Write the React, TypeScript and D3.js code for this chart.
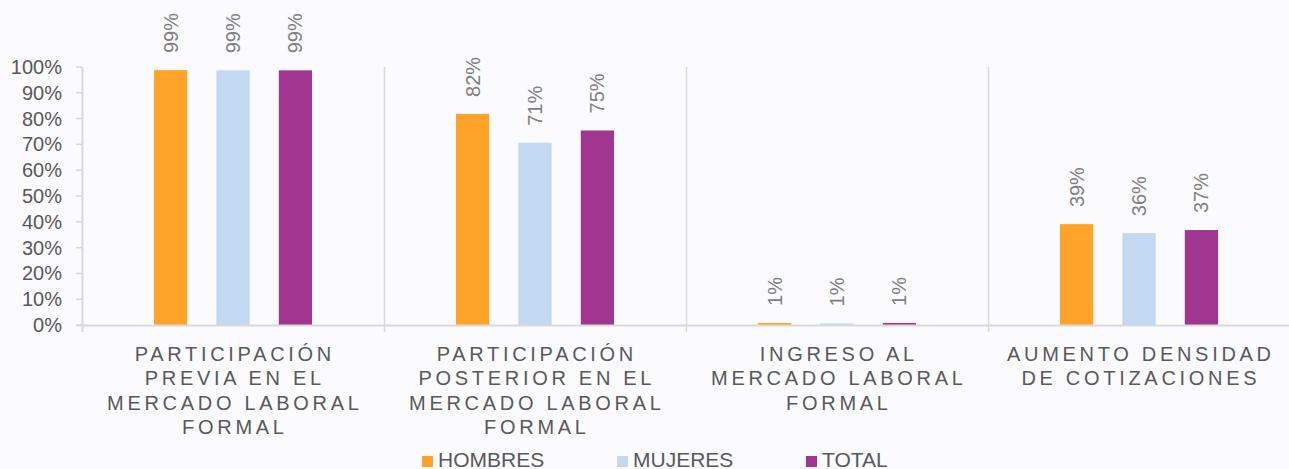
import React from "react";
import * as d3 from "d3";

const categories: string[][] = [
  ["PARTICIPACIÓN", "PREVIA EN EL", "MERCADO LABORAL", "FORMAL"],
  ["PARTICIPACIÓN", "POSTERIOR EN EL", "MERCADO LABORAL", "FORMAL"],
  ["INGRESO AL", "MERCADO LABORAL", "FORMAL"],
  ["AUMENTO DENSIDAD", "DE COTIZACIONES"],
];
const seriesNames = ["HOMBRES", "MUJERES", "TOTAL"];
const hombres = [98.8, 81.8, 0.8, 39.1];
const mujeres = [98.7, 70.6, 0.6, 35.6];
const total = [98.7, 75.4, 0.8, 36.8];
const yTicks = [0, 10, 20, 30, 40, 50, 60, 70, 80, 90, 100];

const colors = ["#FFA32A", "#C3D8F1", "#A03690"];
const W = 1289;
const H = 469;
const left = 82;
const right = 1290;
const top = 67;
const bottom = 325;
const font = "'Liberation Sans', Arial, sans-serif";

export default function App() {
  const series = [hombres, mujeres, total];
  const catIdx = categories.map((_, i) => String(i));
  const x0 = d3.scaleBand<string>().domain(catIdx).range([left, right]).padding(0);
  const x1 = d3
    .scaleBand<string>()
    .domain(seriesNames)
    .range([72, 230])
    .paddingInner(0.468)
    .paddingOuter(0);
  const y = d3.scaleLinear().domain([0, 100]).range([bottom, top]);
  const legendX = [422, 617, 806];
  const grid = "#D9D9D9";
  const ls = 3.7;

  return (
    <div style={{ position: "fixed", left: 0, top: 0, width: W, height: H }}>
      <svg width={W} height={H} style={{ display: "block", background: "#FBFAFD" }}>
        <rect x={0} y={0} width={W} height={H} fill="#FBFAFD" />
        {/* category separators */}
        {catIdx.map((c, i) => (
          <line
            key={"sep" + c}
            x1={x0(c)! + 0.5}
            x2={x0(c)! + 0.5}
            y1={top}
            y2={bottom + 7}
            stroke={grid}
            strokeWidth={i === 0 ? 2 : 1.5}
          />
        ))}
        {/* y ticks */}
        {yTicks.map((t) => (
          <g key={"t" + t}>
            <line x1={left - 6} x2={left} y1={y(t)} y2={y(t)} stroke={grid} strokeWidth={1.5} />
            <text
              x={62}
              y={y(t)}
              dy="0.35em"
              textAnchor="end"
              fontFamily={font}
              fontSize={20}
              fill="#595959"
            >
              {t + "%"}
            </text>
          </g>
        ))}
        {/* bars */}
        {catIdx.map((c, ci) =>
          seriesNames.map((s, si) => {
            const v = series[si][ci];
            const bx = x0(c)! + x1(s)!;
            const bw = x1.bandwidth();
            return (
              <g key={c + s}>
                <rect x={bx} y={y(v)} width={bw} height={bottom - y(v)} fill={colors[si]} />
                <text
                  transform={`translate(${bx + bw / 2},${y(v) - 17}) rotate(-90)`}
                  dy="0.35em"
                  textAnchor="start"
                  fontFamily={font}
                  fontSize={20}
                  fill="#808080"
                >
                  {Math.round(v) + "%"}
                </text>
              </g>
            );
          })
        )}
        {/* x axis line */}
        <line x1={left - 6} x2={W} y1={bottom + 0.5} y2={bottom + 0.5} stroke={grid} strokeWidth={2} />
        {/* category labels */}
        {catIdx.map((c, ci) => (
          <text
            key={"cl" + c}
            fontFamily={font}
            fontSize={20}
            letterSpacing={ls}
            fill="#595959"
            textAnchor="middle"
          >
            {categories[ci].map((line, li) => (
              <tspan key={li} x={x0(c)! + x0.bandwidth() / 2 + ls / 2} y={360.5 + li * 24.6}>
                {line}
              </tspan>
            ))}
          </text>
        ))}
        {/* legend */}
        {seriesNames.map((s, si) => (
          <g key={"lg" + s}>
            <rect x={legendX[si]} y={456} width={11} height={11} fill={colors[si]} />
            <text x={legendX[si] + 16} y={467} fontFamily={font} fontSize={21} fill="#595959">
              {s}
            </text>
          </g>
        ))}
      </svg>
    </div>
  );
}
